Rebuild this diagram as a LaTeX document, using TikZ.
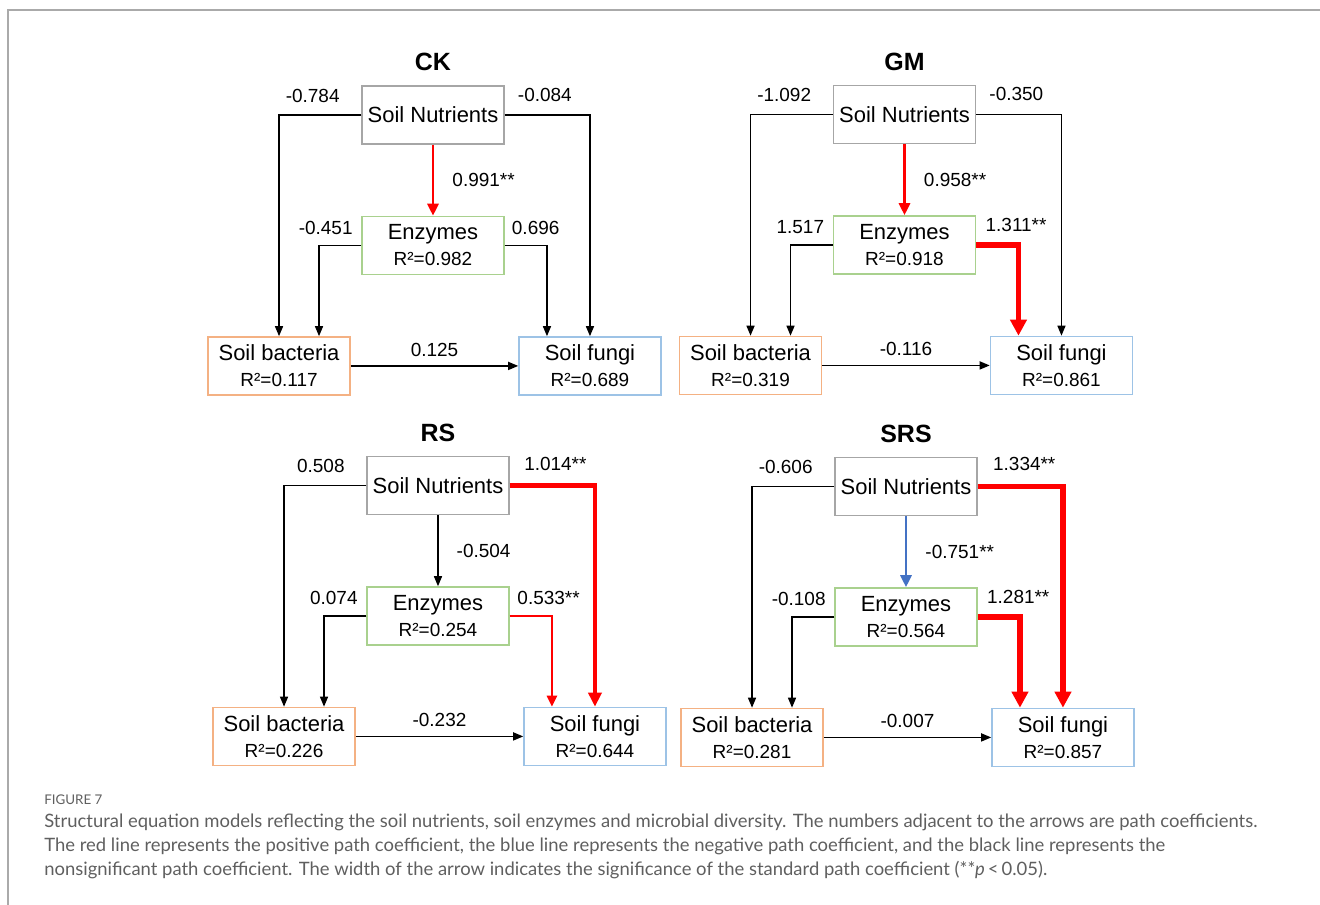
\documentclass[tikz,border=0pt]{standalone}
\usepackage{fontspec}
\setmainfont{Liberation Sans}
\newfontfamily\capfont{Lato}
\usetikzlibrary{arrows.meta,positioning}
\definecolor{nutgray}{RGB}{166,166,166}
\definecolor{enzgreen}{RGB}{169,209,142}
\definecolor{bacorange}{RGB}{244,177,131}
\definecolor{fungblue}{RGB}{157,195,230}
\definecolor{posred}{RGB}{255,0,0}
\definecolor{negblue}{RGB}{68,114,196}
\definecolor{capgray}{RGB}{95,95,95}
\definecolor{framegray}{RGB}{170,170,170}

\begin{document}
\begin{tikzpicture}[x=0.02cm, y=-0.02cm, every node/.style={font=\fontsize{10.8}{13}\selectfont}, box/.style={rectangle, line width=0.85pt, align=center, minimum width=2.84cm, minimum height=1.16cm, inner sep=0pt, font=\fontsize{12.5}{14.8}\selectfont}, nut/.style={box, draw=nutgray}, enz/.style={box, draw=enzgreen}, bac/.style={box, draw=bacorange}, fun/.style={box, draw=fungblue}, title/.style={inner sep=0pt, font=\bfseries\fontsize{14.2}{17}\selectfont}, lbl/.style={inner sep=0pt}, lnw/.style={lbl, pos=0, anchor=south east, xshift=-0.42cm, yshift=0.24cm}, lne/.style={lbl, pos=0, anchor=south west, xshift=0.25cm, yshift=0.26cm}, lew/.style={lbl, pos=0, anchor=south east, xshift=-0.16cm, yshift=0.21cm}, lee/.style={lbl, pos=0, anchor=south west, xshift=0.13cm, yshift=0.21cm}, lmid/.style={lbl, midway, right=0.36cm}, lbot/.style={lbl, midway, above=0.18cm}, ns/.style={draw=black, line width=0.8pt, -{Triangle[length=0.2cm, width=0.16cm]}}, sig/.style={draw=posred, line width=1.7pt, -{Triangle[length=0.24cm, width=0.22cm]}}, sigthin/.style={draw=posred, line width=1.4pt, -{Triangle[length=0.22cm, width=0.2cm]}}, sigmid/.style={draw=posred, line width=2.3pt, -{Triangle[length=0.28cm, width=0.26cm]}}, sigthick/.style={draw=posred, line width=3.3pt, -{Triangle[length=0.32cm, width=0.32cm]}}, neg/.style={draw=negblue, line width=1.7pt, -{Triangle[length=0.24cm, width=0.22cm]}}, captext/.style={inner sep=0pt, align=left, text=capgray, font=\capfont\fontsize{10.5}{13.5}\selectfont}]
\useasboundingbox (0,0) rectangle (1320,905);
\draw[framegray, line width=0.8pt] (8,905) -- (8,10) -- (1320,10);

\node[nut] (ck-n) at (433,115) {Soil Nutrients};
\node[title, above=0.28cm of ck-n] (ck-t) {CK};
\node[enz, below=1.42cm of ck-n] (ck-e) {Enzymes\\{\fontsize{10.8}{13}\selectfont R²=0.982}};
\node[bac, below=1.22cm of ck-e, xshift=-3.08cm] (ck-b) {Soil bacteria\\{\fontsize{10.8}{13}\selectfont R²=0.117}};
\node[fun, below=1.22cm of ck-e, xshift=3.14cm] (ck-f) {Soil fungi\\{\fontsize{10.8}{13}\selectfont R²=0.689}};
\draw[ns] (ck-n.west) -| node[lnw] {-0.784} (ck-b.north);
\draw[ns] (ck-n.east) -| node[lne] {-0.084} (ck-f.north);
\draw[sig] (ck-n.south) -- node[lmid] {0.991**} (ck-e.north);
\draw[ns] (ck-e.west) -| node[lew] {-0.451} ([xshift=0.8cm]ck-b.north);
\draw[ns] (ck-e.east) -| node[lee] {0.696} ([xshift=-0.86cm]ck-f.north);
\draw[ns] (ck-b.east) -- node[lbot] {0.125} (ck-f.west);

\node[nut] (gm-n) at (904.5,114.5) {Soil Nutrients};
\node[title, above=0.28cm of gm-n] (gm-t) {GM};
\node[enz, below=1.42cm of gm-n] (gm-e) {Enzymes\\{\fontsize{10.8}{13}\selectfont R²=0.918}};
\node[bac, below=1.22cm of gm-e, xshift=-3.08cm] (gm-b) {Soil bacteria\\{\fontsize{10.8}{13}\selectfont R²=0.319}};
\node[fun, below=1.22cm of gm-e, xshift=3.14cm] (gm-f) {Soil fungi\\{\fontsize{10.8}{13}\selectfont R²=0.861}};
\draw[ns] (gm-n.west) -| node[lnw] {-1.092} (gm-b.north);
\draw[ns] (gm-n.east) -| node[lne] {-0.350} (gm-f.north);
\draw[sig] (gm-n.south) -- node[lmid] {0.958**} (gm-e.north);
\draw[ns] (gm-e.west) -| node[lew] {1.517} ([xshift=0.8cm]gm-b.north);
\draw[sigthick] (gm-e.east) -| node[lee] {1.311**} ([xshift=-0.86cm]gm-f.north);
\draw[ns] (gm-b.east) -- node[lbot] {-0.116} (gm-f.west);

\node[nut] (rs-n) at (438,485.5) {Soil Nutrients};
\node[title, above=0.28cm of rs-n] (rs-t) {RS};
\node[enz, below=1.42cm of rs-n] (rs-e) {Enzymes\\{\fontsize{10.8}{13}\selectfont R²=0.254}};
\node[bac, below=1.22cm of rs-e, xshift=-3.08cm] (rs-b) {Soil bacteria\\{\fontsize{10.8}{13}\selectfont R²=0.226}};
\node[fun, below=1.22cm of rs-e, xshift=3.14cm] (rs-f) {Soil fungi\\{\fontsize{10.8}{13}\selectfont R²=0.644}};
\draw[ns] (rs-n.west) -| node[lnw] {0.508} (rs-b.north);
\draw[sigmid] (rs-n.east) -| node[lne] {1.014**} (rs-f.north);
\draw[ns] (rs-n.south) -- node[lmid] {-0.504} (rs-e.north);
\draw[ns] (rs-e.west) -| node[lew] {0.074} ([xshift=0.8cm]rs-b.north);
\draw[sigthin] (rs-e.east) -| node[lee] {0.533**} ([xshift=-0.86cm]rs-f.north);
\draw[ns] (rs-b.east) -- node[lbot] {-0.232} (rs-f.west);

\node[nut] (srs-n) at (906,486.5) {Soil Nutrients};
\node[title, above=0.28cm of srs-n] (srs-t) {SRS};
\node[enz, below=1.42cm of srs-n] (srs-e) {Enzymes\\{\fontsize{10.8}{13}\selectfont R²=0.564}};
\node[bac, below=1.22cm of srs-e, xshift=-3.08cm] (srs-b) {Soil bacteria\\{\fontsize{10.8}{13}\selectfont R²=0.281}};
\node[fun, below=1.22cm of srs-e, xshift=3.14cm] (srs-f) {Soil fungi\\{\fontsize{10.8}{13}\selectfont R²=0.857}};
\draw[ns] (srs-n.west) -| node[lnw] {-0.606} (srs-b.north);
\draw[sigthick] (srs-n.east) -| node[lne] {1.334**} (srs-f.north);
\draw[neg] (srs-n.south) -- node[lmid] {-0.751**} (srs-e.north);
\draw[ns] (srs-e.west) -| node[lew] {-0.108} ([xshift=0.8cm]srs-b.north);
\draw[sigthick] (srs-e.east) -| node[lee] {1.281**} ([xshift=-0.86cm]srs-f.north);
\draw[ns] (srs-b.east) -- node[lbot] {-0.007} (srs-f.west);

\node[captext, anchor=west, font=\capfont\fontsize{7.6}{9}\selectfont] (fig) at (44,800) {FIGURE 7};
\node[captext, anchor=north west] (caption) at (44,814) {Structural equation models reflecting the soil nutrients, soil enzymes and microbial diversity. The numbers adjacent to the arrows are path coefficients.\\The red line represents the positive path coefficient, the blue line represents the negative path coefficient, and the black line represents the\\nonsignificant path coefficient. The width of the arrow indicates the significance of the standard path coefficient (**\textit{p}\,<\,0.05).};
\end{tikzpicture}
\end{document}
